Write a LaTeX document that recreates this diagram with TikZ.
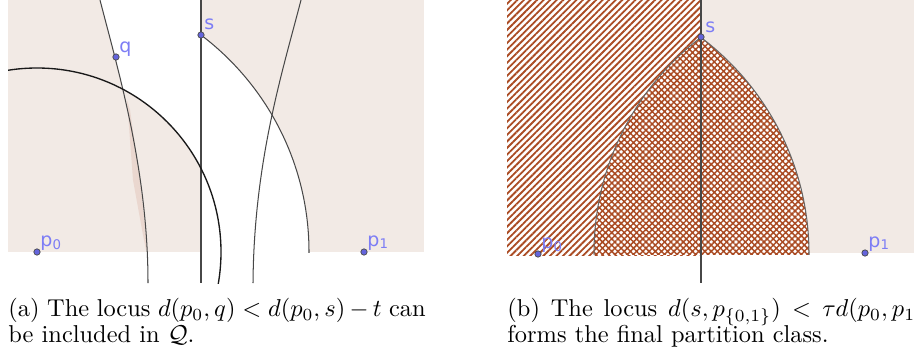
\documentclass[tikz,border=0pt]{standalone}
\usepackage{amsmath,amssymb}
\usepackage{fontspec}
\newfontfamily\geofont{DejaVu Sans}
\usepackage{tikz}
\usetikzlibrary{calc, positioning, patterns.meta}
\definecolor{pale}{RGB}{242,234,229}
\definecolor{sliver}{RGB}{234,215,207}
\definecolor{hatchbrown}{RGB}{170,75,35}
\definecolor{ptblue}{RGB}{100,100,220}
\definecolor{lblblue}{RGB}{125,125,245}

\begin{document}
\begin{tikzpicture}[x=0.01441cm, y=-0.01441cm,
  pt/.style={circle, draw=black!70, fill=ptblue, line width=0.3pt, inner sep=0pt, minimum size=2.6pt},
  lbl/.style={anchor=base west, inner sep=0pt, text=lblblue, font=\geofont\fontsize{7.8}{8}\selectfont},
  curve/.style={draw=black!72, line width=0.42pt},
  captext/.style={anchor=north west, inner sep=0pt, text width=171pt, align=justify, font=\fontsize{10}{10.66}\selectfont}]
\useasboundingbox (0,0) rectangle (914,360);
\clip (0,0) rectangle (914,360);

% (a)
\coordinate (p0a) at (37,252);
\coordinate (p1a) at (364,252);
\coordinate (qa) at (116,57);
\coordinate (sa) at (201,35);

\fill[pale] (8,0) rectangle (424,252);
\begin{scope}
  \clip (100,0) .. controls (118,70) and (148,170) .. (148,283) -- (201,283) -- (201,0) -- cycle;
  \fill[white, even odd rule] (8,0) rectangle (424,252) (p0a) circle (184);
\end{scope}
\begin{scope}
  \clip (201,0) rectangle (424,252);
  \fill[white] (p0a) circle (272);
\end{scope}
\fill[sliver] (127,100) -- (133,180) -- (143,235) -- (146,250) -- (147,250) -- (145.5,230) -- (140,180) -- (130,110) -- cycle;

\draw[curve] (100,0) .. controls (118,70) and (148,170) .. (148,283);
\draw[curve] (301,0) .. controls (283,70) and (254,160) .. (253,283);
\draw[curve] (201,0) -- (201,283);
\begin{scope}
  \clip (201,0) rectangle (424,252);
  \draw[curve] (p0a) circle (272);
\end{scope}
\begin{scope}
  \clip (8,0) rectangle (424,283);
  \draw[curve, draw=black!90, line width=0.55pt] (p0a) circle (184);
\end{scope}

\node[pt] (p0a dot) at (p0a) {};
\node[pt] (p1a dot) at (p1a) {};
\node[pt] (qa dot) at (qa) {};
\node[pt] (sa dot) at (sa) {};
\node[lbl] (p0a lbl) at (40,246) {p\textsubscript{0}};
\node[lbl] (p1a lbl) at (367,246) {p\textsubscript{1}};
\node[lbl] (qa lbl) at (119,52) {q};
\node[lbl] (sa lbl) at (204,30) {s};

% (b)
\coordinate (p0b) at (538,254);
\coordinate (p1b) at (865,253);
\coordinate (sb) at (701,37);

\fill[pale] (701,0) rectangle (914,253);
\fill[pattern={Lines[angle=45, distance=1.9pt, line width=0.75pt]}, pattern color=hatchbrown] (507,0) rectangle (701,255);
\begin{scope}
  \clip (507,0) rectangle (914,254);
  \clip (p0b) circle (271);
  \fill[white] (p1b) circle (271);
  \fill[pattern={Hatch[angle=45, distance=1.8pt, line width=0.6pt]}, pattern color=hatchbrown] (p1b) circle (271);
  \draw[curve, draw=black!60] (p1b) circle (271);
\end{scope}
\begin{scope}
  \clip (507,0) rectangle (914,254);
  \clip (p1b) circle (271);
  \draw[curve, draw=black!60] (p0b) circle (271);
\end{scope}
\draw[curve] (701,0) -- (701,283);

\node[pt] (p0b dot) at (p0b) {};
\node[pt] (p1b dot) at (p1b) {};
\node[pt] (sb dot) at (sb) {};
\node[lbl] (p0b lbl) at (541,248) {p\textsubscript{0}};
\node[lbl] (p1b lbl) at (868,247) {p\textsubscript{1}};
\node[lbl] (sb lbl) at (705,32) {s};

% captions
\node[captext] (capa) at (8,298) {(a) The locus $d(p_0,q) < d(p_0,s)-t$ can be included in $\mathcal{Q}$.};
\node[captext] (capb) at (507,298) {(b) The locus $d(s,p_{\{0,1\}}) < \tau d(p_0,p_1)$ forms the final partition class.};
\end{tikzpicture}
\end{document}
